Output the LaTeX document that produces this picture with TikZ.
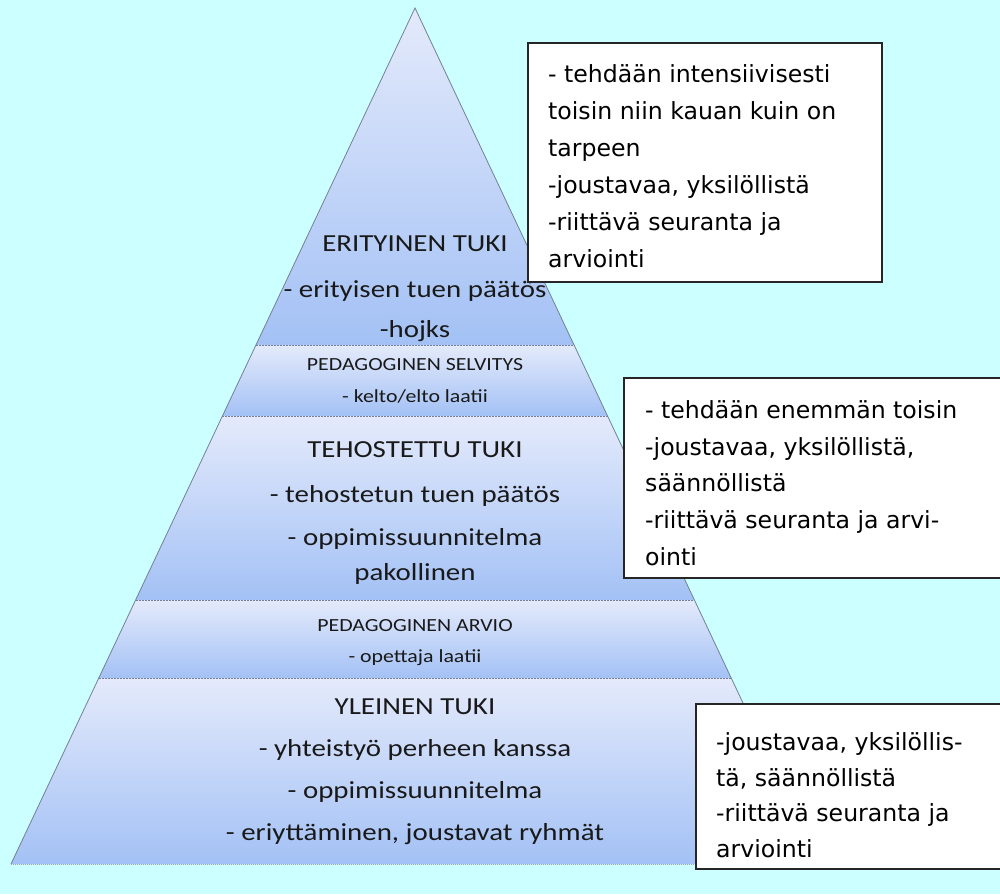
\documentclass[tikz,border=0pt]{standalone}
\usepackage{fontspec}
\newfontfamily\boxfont{DejaVu Sans}
\newfontfamily\pyrfont[FakeStretch=1.18]{Carlito}
\usetikzlibrary{calc}
\definecolor{bgcyan}{RGB}{204,255,255}
\definecolor{ptop}{RGB}{228,234,251}
\definecolor{pbot}{RGB}{163,193,245}
\definecolor{edgec}{RGB}{115,128,150}
\begin{document}
\begin{tikzpicture}[x=1pt,y=-1pt,
  sep/.style={draw=edgec, line width=0.8pt, dash pattern=on 2pt off 1pt},
  big/.style={font=\pyrfont\fontsize{24.5}{29}\selectfont, anchor=base, inner sep=0pt, text=black!90},
  small/.style={font=\pyrfont\fontsize{18.5}{22}\selectfont, anchor=base, inner sep=0pt, text=black!90},
  infobox/.style={draw=black!85, line width=1.5pt, fill=white, anchor=north west, inner sep=0pt},
  boxline/.style={font=\boxfont\fontsize{23.6}{28}\selectfont, anchor=base west, inner sep=0pt, text=black}]
\clip (0,0) rectangle (1000,894);
\fill[bgcyan] (0,0) rectangle (1000,894);
% pyramid geometry
\coordinate (apex) at (415,8);
\coordinate (bl) at (11,864);
\coordinate (br) at (819,864);
\coordinate (l1) at ($(apex)!0.39369!(bl)$);
\coordinate (r1) at ($(apex)!0.39369!(br)$);
\coordinate (l2) at ($(apex)!0.47664!(bl)$);
\coordinate (r2) at ($(apex)!0.47664!(br)$);
\coordinate (l3) at ($(apex)!0.69159!(bl)$);
\coordinate (r3) at ($(apex)!0.69159!(br)$);
\coordinate (l4) at ($(apex)!0.78271!(bl)$);
\coordinate (r4) at ($(apex)!0.78271!(br)$);
% bands
\shade[top color=ptop, bottom color=pbot] (apex) -- (r1) -- (l1) -- cycle;
\shade[top color=ptop, bottom color=pbot] (l1) -- (r1) -- (r2) -- (l2) -- cycle;
\shade[top color=ptop, bottom color=pbot] (l2) -- (r2) -- (r3) -- (l3) -- cycle;
\shade[top color=ptop, bottom color=pbot] (l3) -- (r3) -- (r4) -- (l4) -- cycle;
\shade[top color=ptop, bottom color=pbot] (l4) -- (r4) -- (br) -- (bl) -- cycle;
\draw[sep] (l1) -- (r1);
\draw[sep] (l2) -- (r2);
\draw[sep] (l3) -- (r3);
\draw[sep] (l4) -- (r4);
\draw[draw=edgec, line width=0.8pt] (bl) -- (apex) -- (br);
\draw[draw=black!35, line width=0.8pt, dash pattern=on 1pt off 1pt] (bl) -- (br);
% pyramid texts
\node[big] (t1a) at (415,251) {ERITYINEN TUKI};
\node[big] (t1b) at (415,297) {- erityisen tuen päätös};
\node[big] (t1c) at (415,337) {-hojks};
\node[small] (t2a) at (415,370) {PEDAGOGINEN SELVITYS};
\node[small] (t2b) at (415,402) {- kelto/elto laatii};
\node[big] (t3a) at (415,457) {TEHOSTETTU TUKI};
\node[big] (t3b) at (415,502) {- tehostetun tuen päätös};
\node[big] (t3c) at (415,545) {- oppimissuunnitelma};
\node[big] (t3d) at (415,580) {pakollinen};
\node[small] (t4a) at (415,631) {PEDAGOGINEN ARVIO};
\node[small] (t4b) at (415,662) {- opettaja laatii};
\node[big] (t5a) at (415,714) {YLEINEN TUKI};
\node[big] (t5b) at (415,756) {- yhteistyö perheen kanssa};
\node[big] (t5c) at (415,798) {- oppimissuunnitelma};
\node[big] (t5d) at (415,840) {- eriyttäminen, joustavat ryhmät};
% info boxes
\node[infobox, minimum width=354pt, minimum height=239pt] (b1) at (527,42) {};
\node[infobox, minimum width=400pt, minimum height=200pt] (b2) at (623,377) {};
\node[infobox, minimum width=330pt, minimum height=165pt] (b3) at (695,703) {};
\node[boxline] (b1l1) at (548,82) {- tehdään intensiivisesti};
\node[boxline] (b1l2) at (548,119) {toisin niin kauan kuin on};
\node[boxline] (b1l3) at (548,156) {tarpeen};
\node[boxline] (b1l4) at (548,193) {-joustavaa, yksilöllistä};
\node[boxline] (b1l5) at (548,230) {-riittävä seuranta ja};
\node[boxline] (b1l6) at (548,267) {arviointi};
\node[boxline] (b2l1) at (645,418) {- tehdään enemmän toisin};
\node[boxline] (b2l2) at (645,455) {-joustavaa, yksilöllistä,};
\node[boxline] (b2l3) at (645,491.5) {säännöllistä};
\node[boxline] (b2l4) at (645,528) {-riittävä seuranta ja arvi-};
\node[boxline] (b2l5) at (645,565) {ointi};
\node[boxline] (b3l1) at (716,750) {-joustavaa, yksilöllis-};
\node[boxline] (b3l2) at (716,786) {tä, säännöllistä};
\node[boxline] (b3l3) at (716,821) {-riittävä seuranta ja};
\node[boxline] (b3l4) at (716,857) {arviointi};
\end{tikzpicture}
\end{document}
